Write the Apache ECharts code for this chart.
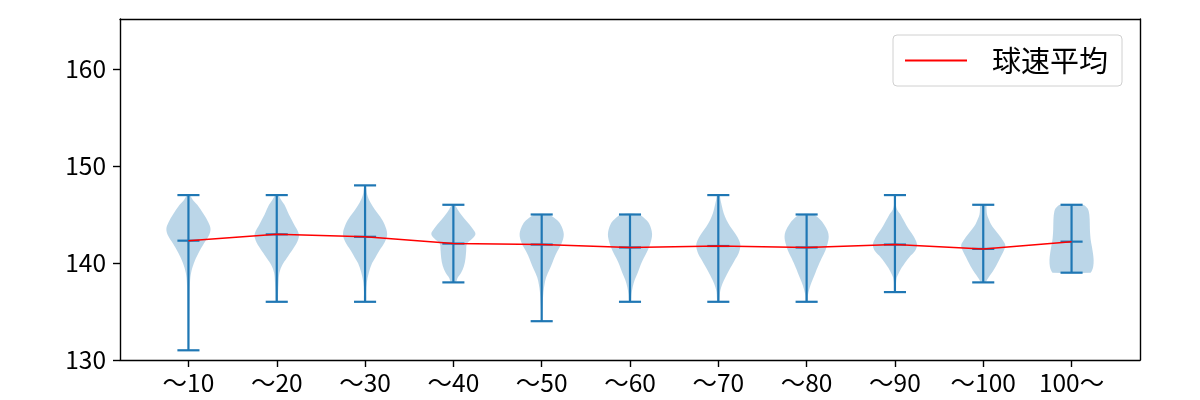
<!DOCTYPE html>
<html>
<head>
<meta charset="utf-8">
<script src="https://cdn.jsdelivr.net/npm/echarts@6/dist/echarts.min.js"></script>
<style>html,body{margin:0;padding:0;background:#fff}#c{width:1200px;height:400px}</style>
</head>
<body>
<div id="c"></div>
<script>
const categories = ['～10','～20','～30','～40','～50','～60','～70','～80','～90','～100','100～'];
const positions = [1,2,3,4,5,6,7,8,9,10,11];
const minValues = [131,136,136,138,134,136,136,136,137,138,139];
const maxValues = [147,147,148,146,145,145,147,145,147,146,146];
const meanValues = [142.3,142.95,142.7,142.0,141.9,141.6,141.75,141.6,141.9,141.45,142.2];
const yTicks = [130,140,150,160];
const legendName = '球速平均';

// violin outline: [value, relative half width]
const profile1 = [[147,0.05],[146.5,0.2],[146,0.4],[145,0.7],[144.2,0.9],[143.5,1.0],[142.8,0.92],[142,0.7],[141,0.45],[140,0.25],[139,0.12],[138,0.07],[136,0.05],[134,0.04],[132,0.03],[131,0.02]];
const profile2 = [[147,0.05],[146.5,0.2],[146,0.35],[145,0.55],[144,0.78],[143,1.0],[142.3,0.95],[141.5,0.75],[140.5,0.45],[139.8,0.25],[139,0.12],[138,0.08],[137,0.06],[136,0.04]];
const profile3 = [[148,0.03],[147,0.1],[146.2,0.25],[145.5,0.45],[144.8,0.68],[144,0.88],[143,1.0],[142.2,0.9],[141.3,0.65],[140.5,0.45],[140,0.32],[139,0.17],[138,0.08],[137,0.05],[136,0.04]];
const profile4 = [[146,0.05],[145.5,0.2],[145,0.35],[144.3,0.6],[143.6,0.85],[143,1.0],[142.5,0.85],[142,0.62],[141.3,0.58],[140.5,0.55],[139.7,0.48],[139,0.35],[138.5,0.2],[138,0.1]];
const profile5 = [[145,0.3],[144.5,0.65],[144,0.85],[143,1.0],[142,0.9],[141.5,0.78],[140.8,0.62],[140,0.48],[139.3,0.35],[138.5,0.2],[137.8,0.13],[137,0.08],[136,0.05],[135,0.03],[134,0.02]];
const profile6 = [[145,0.4],[144.5,0.7],[144,0.88],[143,1.0],[142,0.92],[141.3,0.8],[140.5,0.62],[139.8,0.48],[139,0.35],[138.3,0.22],[137.5,0.12],[136.8,0.07],[136,0.04]];
const profile7 = [[147,0.05],[146.5,0.1],[145.5,0.2],[144.8,0.3],[144.1,0.45],[143.5,0.62],[143,0.78],[142.3,0.95],[141.8,1.0],[141,0.92],[140.3,0.75],[139.5,0.55],[138.8,0.38],[138.2,0.25],[137.5,0.13],[137,0.08],[136,0.04]];
const profile8 = [[145,0.3],[144.5,0.6],[144,0.78],[143.3,0.95],[142.7,1.0],[142,0.95],[141.3,0.85],[140.5,0.68],[140,0.58],[139.3,0.45],[138.7,0.35],[138,0.22],[137.3,0.12],[136.7,0.06],[136,0.04]];
const profile9 = [[147,0.02],[146,0.04],[145.5,0.1],[145,0.25],[144.3,0.42],[143.5,0.62],[143,0.78],[142.3,0.95],[141.8,1.0],[141.2,0.9],[140.6,0.65],[140,0.45],[139.5,0.3],[139,0.18],[138.5,0.08],[138,0.05],[137,0.03]];
const profile10 = [[146,0.12],[145.5,0.15],[145,0.17],[144.5,0.25],[144,0.35],[143.5,0.5],[143,0.68],[142.3,0.9],[141.8,1.0],[141.2,0.92],[140.6,0.78],[140,0.65],[139.3,0.48],[138.7,0.3],[138.3,0.18],[138,0.1]];
const profile11 = [[146,0.5],[145.7,0.7],[145.3,0.78],[144.5,0.82],[143.5,0.83],[142.5,0.86],[141.7,0.92],[141,0.97],[140.3,1.0],[139.6,0.98],[139.2,0.92],[139,0.85]];
const profiles = [profile1,profile2,profile3,profile4,profile5,profile6,profile7,profile8,profile9,profile10,profile11];

const VIOLIN_HALF = 0.25;
const CAP_HALF = 0.125;
const BLUE = '#1f77b4';
const FONT = 'Noto Sans CJK JP';

const chart = echarts.init(document.getElementById('c'), null, {renderer: 'canvas'});

const violinData = positions.map((p, i) => [p, minValues[i], maxValues[i], meanValues[i]]);
const meanLine = positions.map((p, i) => [p, meanValues[i]]);

function renderViolin(params, api) {
  const i = params.dataIndex;
  const pos = api.value(0);
  const vmin = api.value(1), vmax = api.value(2), vmean = api.value(3);
  const prof = profiles[i];
  const right = prof.map(d => api.coord([pos + d[1] * VIOLIN_HALF, d[0]]));
  const left = prof.slice().reverse().map(d => api.coord([pos - d[1] * VIOLIN_HALF, d[0]]));
  const pts = right.concat(left);
  const top = api.coord([pos, vmax]);
  const bot = api.coord([pos, vmin]);
  const mean = api.coord([pos, vmean]);
  const capL = api.coord([pos - CAP_HALF, vmax])[0];
  const capR = api.coord([pos + CAP_HALF, vmax])[0];
  const ls = {stroke: BLUE, lineWidth: 2.2};
  return {
    type: 'group',
    children: [
      {type: 'polygon', shape: {points: pts, smooth: 0.35}, style: {fill: 'rgba(31,119,180,0.3)', stroke: 'none'}},
      {type: 'line', shape: {x1: top[0], y1: top[1], x2: bot[0], y2: bot[1]}, style: ls},
      {type: 'line', shape: {x1: capL, y1: top[1], x2: capR, y2: top[1]}, style: ls},
      {type: 'line', shape: {x1: capL, y1: bot[1], x2: capR, y2: bot[1]}, style: ls},
      {type: 'line', shape: {x1: capL, y1: mean[1], x2: capR, y2: mean[1]}, style: ls}
    ]
  };
}

const axisLineStyle = {color: '#000', width: 1.4};

const option = {
  animation: false,
  backgroundColor: '#fff',
  grid: {left: 120, right: 60, top: 19, bottom: 40, containLabel: false},
  xAxis: [{
    type: 'value', min: 0.225, max: 11.775,
    axisLine: {show: true, onZero: false, lineStyle: axisLineStyle},
    axisTick: {show: true, customValues: positions, length: 7, lineStyle: axisLineStyle},
    axisLabel: {show: true, customValues: positions, margin: 10, color: '#000', fontSize: 24.5,
      fontFamily: FONT, formatter: v => categories[Math.round(v) - 1]},
    splitLine: {show: false}
  }, {
    type: 'value', position: 'top', min: 0.225, max: 11.775,
    axisLine: {show: true, onZero: false, lineStyle: axisLineStyle},
    axisTick: {show: false}, axisLabel: {show: false}, splitLine: {show: false}
  }],
  yAxis: [{
    type: 'value', min: 130, max: 165.15, interval: 10,
    axisLine: {show: true, onZero: false, lineStyle: axisLineStyle},
    axisTick: {show: true, customValues: yTicks, length: 7, lineStyle: axisLineStyle},
    axisLabel: {show: true, customValues: yTicks, margin: 14, color: '#000', fontSize: 24.5, fontFamily: FONT},
    splitLine: {show: false}
  }, {
    type: 'value', position: 'right', min: 130, max: 165.15,
    axisLine: {show: true, onZero: false, lineStyle: axisLineStyle},
    axisTick: {show: false}, axisLabel: {show: false}, splitLine: {show: false}
  }],
  legend: {
    show: true, left: 893, top: 35, orient: 'vertical',
    backgroundColor: '#fff', borderColor: '#d0d0d0', borderWidth: 1, borderRadius: 4,
    padding: [11, 14, 11, 12],
    itemWidth: 62, itemHeight: 2,
    data: [{name: legendName, icon: 'rect'}],
    textStyle: {fontSize: 29, fontFamily: FONT, color: '#000', padding: [0, 0, 0, 20]}
  },
  series: [{
    type: 'custom', name: 'violin', renderItem: renderViolin, data: violinData,
    encode: {x: 0, y: [1, 2, 3]}, z: 2, silent: true
  }, {
    type: 'line', name: legendName, data: meanLine, symbol: 'none', z: 5,
    lineStyle: {color: '#ff0000', width: 1.5}, itemStyle: {color: '#ff0000'}
  }]
};
chart.setOption(option);
</script>
</body>
</html>
